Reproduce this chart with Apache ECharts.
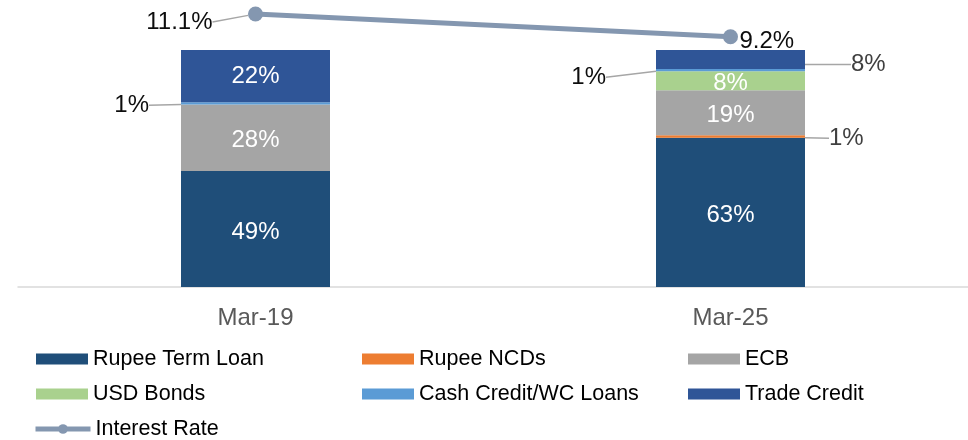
<!DOCTYPE html>
<html>
<head>
<meta charset="utf-8">
<script src="https://cdn.jsdelivr.net/npm/echarts@6/dist/echarts.min.js"></script>
<style>
  html, body { margin: 0; padding: 0; background: #fff; }
  #main { width: 968px; height: 440px; }
</style>
</head>
<body>
<div id="main"></div>
<script>
// 数据
const categories = ['Mar-19', 'Mar-25']
const rupeeTermLoan = [49, 63]
const rupeeNCDs = [0, 1]
const ecb = [28, 19]
const usdBonds = [0, 8]
const cashCredit = [1, 1]
const tradeCredit = [22, 8]
const interestRate = [11.1, 9.2]

const FONT = 'Liberation Sans, Arial, sans-serif'
const leader = { show: true, lineStyle: { color: '#A6A6A6', width: 1.5 } }

/** 柱内白色标签 */
function inside(v) {
  return {
    value: v,
    label: { show: v > 0, position: 'inside', offset: [0, 3], color: '#fff', fontSize: 24, fontFamily: FONT, formatter: '{c}%' },
  }
}

/** 柱外标签（带引线） */
function outside(color) {
  return (v) => ({
    value: v,
    label: { show: true, color, fontSize: 24, fontFamily: FONT, formatter: '{c}%' },
    labelLine: leader,
  })
}

function barSeries(name, color, data, layout) {
  return {
    name,
    type: 'bar',
    stack: 'total',
    barWidth: 149,
    itemStyle: { color },
    data,
    labelLayout: layout,
  }
}

/** 图例公共配置 */
function legendCol(left, top, data, extra) {
  return Object.assign({
    left,
    top,
    padding: 0,
    orient: 'vertical',
    itemGap: 13,
    itemWidth: 52,
    itemHeight: 11,
    icon: 'rect',
    textStyle: { fontSize: 21.5, lineHeight: 22, color: '#000', fontFamily: FONT },
    data,
  }, extra)
}

const chart = echarts.init(document.getElementById('main'))

const option = {
  animation: false,
  textStyle: { fontFamily: FONT },
  grid: { left: 18, right: 0, top: 14, bottom: 153 },
  legend: [
    legendCol(36, 348, ['Rupee Term Loan', 'USD Bonds']),
    legendCol(362, 348, ['Rupee NCDs', 'Cash Credit/WC Loans']),
    legendCol(688, 348, ['ECB', 'Trade Credit']),
    legendCol(33, 418, ['Interest Rate'], { icon: null, itemWidth: 55, itemHeight: 12, lineStyle: { width: 5 } }),
  ],
  xAxis: {
    type: 'category',
    data: categories,
    axisTick: { show: false },
    axisLine: { lineStyle: { color: '#D9D9D9', width: 1.5 } },
    axisLabel: { color: '#595959', fontSize: 24, margin: 19, fontFamily: FONT },
  },
  yAxis: [
    { type: 'value', min: 0, max: 115.2, show: false },
    { type: 'value', min: -11.75, max: 11.1, show: false },
  ],
  series: [
    barSeries('Rupee Term Loan', '#1F4E79', rupeeTermLoan.map(inside)),
    barSeries('Rupee NCDs', '#ED7D31', rupeeNCDs.map((v) => (v > 0 ? outside('#404040')(v) : inside(v))),
      (p) => ({ x: p.rect.x + p.rect.width + 24, y: p.rect.y + 3, align: 'left', verticalAlign: 'middle' })),
    barSeries('ECB', '#A5A5A5', ecb.map(inside)),
    barSeries('USD Bonds', '#A9D18E', usdBonds.map(inside)),
    barSeries('Cash Credit/WC Loans', '#5B9BD5', cashCredit.map(outside('#0D0D0D')),
      (p) => p.dataIndex === 0
        ? { x: p.rect.x - 32, y: p.rect.y + p.rect.height / 2 + 2, align: 'right', verticalAlign: 'middle' }
        : { x: p.rect.x - 50, y: p.rect.y + p.rect.height / 2 + 7, align: 'right', verticalAlign: 'middle' }),
    barSeries('Trade Credit', '#2F5597', tradeCredit.map((v, i) => (i === 1 ? outside('#404040')(v) : inside(v))),
      (p) => p.dataIndex === 1
        ? { x: p.rect.x + p.rect.width + 46, y: p.rect.y + p.rect.height / 2 + 5, align: 'left', verticalAlign: 'middle' }
        : {}),
    {
      name: 'Interest Rate',
      type: 'line',
      yAxisIndex: 1,
      clip: false,
      z: 10,
      symbol: 'circle',
      symbolSize: 15,
      itemStyle: { color: '#8497B0' },
      lineStyle: { color: '#8497B0', width: 5 },
      data: interestRate.map((v, i) => ({
        value: v,
        labelLine: i === 0 ? leader : { show: false },
      })),
      label: { show: true, color: '#0D0D0D', fontSize: 24, fontFamily: FONT, formatter: '{c}%' },
      labelLayout: (p) => p.dataIndex === 0
        ? { x: p.rect.x + p.rect.width / 2 - 43, y: p.rect.y + p.rect.height / 2 + 8, align: 'right', verticalAlign: 'middle' }
        : { x: p.rect.x + p.rect.width / 2 + 9, y: p.rect.y + p.rect.height / 2 + 5, align: 'left', verticalAlign: 'middle' },
    },
  ],
}

chart.setOption(option)
</script>
</body>
</html>
